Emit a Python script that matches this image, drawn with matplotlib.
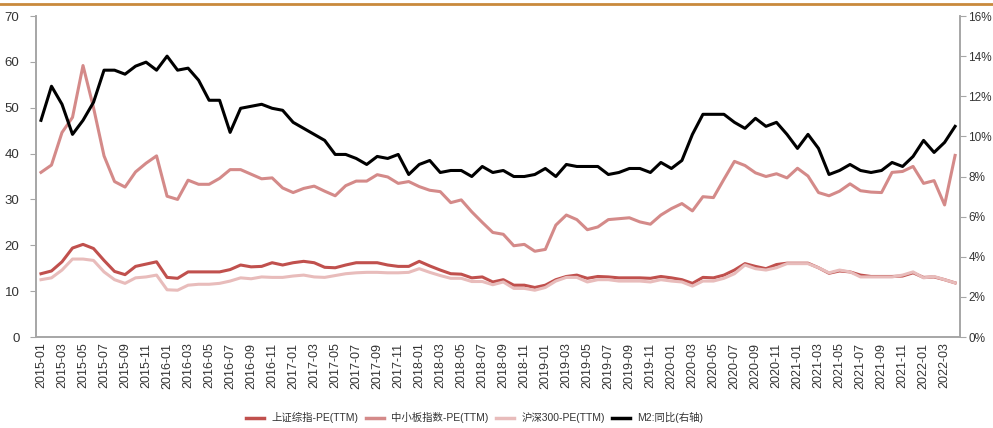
import matplotlib
matplotlib.use("Agg")
import matplotlib.pyplot as plt
from matplotlib.ticker import FuncFormatter
from matplotlib.lines import Line2D
import numpy as np
import pandas as pd

plt.rcParams['font.family'] = ['Liberation Sans', 'Noto Sans CJK SC', 'DejaVu Sans']

months = pd.date_range('2015-01', '2022-04', freq='MS').strftime('%Y-%m').tolist()

# 上证综指-PE(TTM)
sh_pe = [13.8, 14.4, 16.4, 19.4, 20.2, 19.3, 16.7, 14.3, 13.6, 15.4,
         15.9, 16.4, 13.0, 12.8, 14.2, 14.2, 14.2, 14.2, 14.7, 15.7,
         15.3, 15.4, 16.2, 15.7, 16.2, 16.5, 16.2, 15.2, 15.1, 15.7,
         16.2, 16.2, 16.2, 15.7, 15.4, 15.4, 16.5, 15.5, 14.6, 13.8,
         13.7, 12.9, 13.1, 12.0, 12.5, 11.3, 11.3, 10.8, 11.3, 12.5,
         13.2, 13.5, 12.8, 13.2, 13.1, 12.9, 12.9, 12.9, 12.8, 13.2,
         12.9, 12.5, 11.7, 13.0, 12.9, 13.5, 14.6, 16.0, 15.4, 14.9,
         15.8, 16.1, 16.1, 16.1, 15.1, 13.9, 14.4, 14.2, 13.5, 13.2,
         13.2, 13.2, 13.3, 14.0, 13.0, 13.1, 12.5, 11.8]

# 中小板指数-PE(TTM)
sme_pe = [35.9, 37.5, 44.6, 47.9, 59.2, 50.0, 39.5, 33.9, 32.7, 36.0,
          37.9, 39.5, 30.7, 30.0, 34.2, 33.3, 33.3, 34.6, 36.5, 36.5,
          35.5, 34.5, 34.7, 32.5, 31.5, 32.4, 32.9, 31.8, 30.8, 33.0,
          34.0, 34.0, 35.4, 34.9, 33.5, 33.9, 32.8, 32.0, 31.7, 29.3,
          29.9, 27.3, 25.0, 22.8, 22.4, 19.9, 20.2, 18.7, 19.1, 24.4,
          26.6, 25.6, 23.4, 24.0, 25.6, 25.8, 26.0, 25.1, 24.6, 26.6,
          28.0, 29.1, 27.5, 30.6, 30.4, 34.4, 38.3, 37.4, 35.8, 35.0,
          35.6, 34.7, 36.8, 35.1, 31.5, 30.8, 31.8, 33.4, 31.9, 31.6,
          31.5, 35.9, 36.1, 37.2, 33.5, 34.1, 28.8, 39.6]

# 沪深300-PE(TTM)
hs300_pe = [12.5, 12.9, 14.6, 17.0, 17.0, 16.7, 14.2, 12.5, 11.7, 12.9,
            13.1, 13.5, 10.3, 10.2, 11.3, 11.5, 11.5, 11.7, 12.2, 12.9,
            12.7, 13.1, 13.0, 13.0, 13.3, 13.5, 13.1, 13.0, 13.4, 13.8,
            14.0, 14.1, 14.1, 14.0, 14.0, 14.1, 14.9, 14.1, 13.4, 12.8,
            12.8, 12.1, 12.1, 11.4, 12.0, 10.6, 10.6, 10.2, 10.8, 12.2,
            13.0, 13.0, 12.0, 12.5, 12.5, 12.2, 12.2, 12.2, 12.0, 12.5,
            12.2, 12.0, 11.1, 12.2, 12.2, 12.8, 13.8, 15.7, 14.9, 14.6,
            15.1, 16.0, 16.0, 16.0, 15.1, 14.0, 14.6, 14.2, 13.1, 13.1,
            13.1, 13.1, 13.5, 14.2, 12.9, 13.2, 12.5, 11.8]

# M2:同比 (%)
m2_yoy = [10.8, 12.5, 11.6, 10.1, 10.8, 11.7, 13.3, 13.3, 13.1, 13.5,
          13.7, 13.3, 14.0, 13.3, 13.4, 12.8, 11.8, 11.8, 10.2, 11.4,
          11.5, 11.6, 11.4, 11.3, 10.7, 10.4, 10.1, 9.8, 9.1, 9.1,
          8.9, 8.6, 9.0, 8.9, 9.1, 8.1, 8.6, 8.8, 8.2, 8.3,
          8.3, 8.0, 8.5, 8.2, 8.3, 8.0, 8.0, 8.1, 8.4, 8.0,
          8.6, 8.5, 8.5, 8.5, 8.1, 8.2, 8.4, 8.4, 8.2, 8.7,
          8.4, 8.8, 10.1, 11.1, 11.1, 11.1, 10.7, 10.4, 10.9, 10.5,
          10.7, 10.1, 9.4, 10.1, 9.4, 8.1, 8.3, 8.6, 8.3, 8.2,
          8.3, 8.7, 8.5, 9.0, 9.8, 9.2, 9.7, 10.5]

c_sh = '#c0504d'
c_sme = '#d48a89'
c_hs = '#e8bcbb'
c_m2 = '#000000'
axis_gray = '#a6a6a6'
txt = '#333333'
lw = 2.2

fig = plt.figure(figsize=(9.93, 4.28), dpi=100)
ax = fig.add_axes([0.0363, 0.2126, 0.9305, 0.75])
x = np.arange(len(months))

ax.plot(x, sh_pe, color=c_sh, lw=lw)
ax.plot(x, sme_pe, color=c_sme, lw=lw)
ax.plot(x, hs300_pe, color=c_hs, lw=lw)

ax2 = ax.twinx()
ax2.plot(x, np.array(m2_yoy) / 100, color=c_m2, lw=lw)

ax.set_xlim(-0.47, len(months) - 0.53)
ax.set_ylim(0, 70)
ax.set_yticks(range(0, 71, 10))
ax2.set_ylim(0, 0.16)
ax2.set_yticks(np.arange(0, 0.161, 0.02))
ax2.yaxis.set_major_formatter(FuncFormatter(lambda v, p: '%d%%' % round(v * 100)))

ax.set_xticks(x[::2])
ax.set_xticklabels(months[::2], rotation=90, fontsize=9, color=txt)
ax.tick_params(axis='x', length=0, pad=4)
ax.tick_params(axis='y', labelsize=9.5, colors=txt, length=4, color=axis_gray, pad=8)
ax2.tick_params(axis='y', labelsize=8.5, colors=txt, length=4, color=axis_gray, pad=2)
for lab in ax.get_yticklabels() + ax2.get_yticklabels():
    lab.set_color(txt)

for a in (ax, ax2):
    a.spines['top'].set_visible(False)
    for s in ('left', 'right', 'bottom'):
        a.spines[s].set_color(axis_gray)
        a.spines[s].set_linewidth(1.2)

# thin line across the top
fig.add_artist(Line2D([0, 1], [0.99, 0.99], color='#c98a3c', lw=2, transform=fig.transFigure))

handles = [Line2D([], [], color=c, lw=2.5) for c in (c_sh, c_sme, c_hs, c_m2)]
labels = ['上证综指-PE(TTM)', '中小板指数-PE(TTM)', '沪深300-PE(TTM)', 'M2:同比(右轴)']
leg = fig.legend(handles, labels, loc='center', bbox_to_anchor=(0.478, 0.024), ncol=4,
                 frameon=False, fontsize=7.5, handlelength=1.75, handletextpad=0.7,
                 columnspacing=0.7)
for t in leg.get_texts():
    t.set_color(txt)

fig.savefig('out.png', dpi=100)
